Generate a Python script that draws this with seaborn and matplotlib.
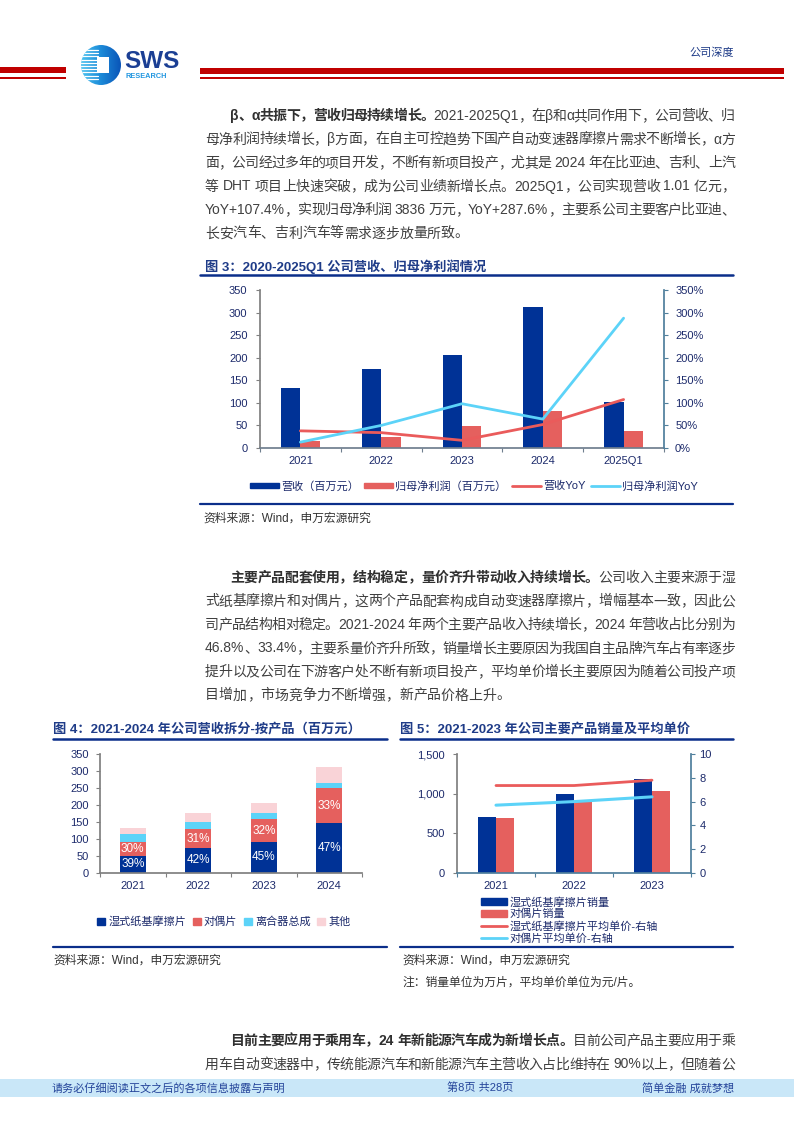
import re
import numpy as np
import pandas as pd
import seaborn as sns
import matplotlib.pyplot as plt
from matplotlib.patches import Rectangle, Circle, Patch
from matplotlib.lines import Line2D
from matplotlib.font_manager import FontProperties

FAM = ['Liberation Sans', 'Noto Sans CJK SC']
sns.set_theme(style='white')
plt.rcParams['font.family'] = FAM
plt.rcParams['axes.unicode_minus'] = False

# ---- 图3 data
years3 = ['2021', '2022', '2023', '2024', '2025Q1']
revenue = [132, 176, 206, 313, 101]
net_profit = [16, 24, 49, 81, 38]
rev_yoy = [38, 34, 17, 52, 107.4]
np_yoy = [13, 50, 98, 64, 287.6]

# ---- 图4 data (百万元)
years4 = ['2021', '2022', '2023', '2024']
wet_rev = [51, 74, 92, 146]
pair_rev = [40, 54, 66, 104]
clutch_rev = [23, 22, 18, 16]
other_rev = [18, 26, 31, 47]
wet_share = ['39%', '42%', '45%', '47%']
pair_share = ['30%', '31%', '32%', '33%']

# ---- 图5 data
years5 = ['2021', '2022', '2023']
wet_vol = [700, 1000, 1190]
pair_vol = [690, 890, 1035]
wet_price = [7.35, 7.35, 7.8]
pair_price = [5.7, 6.0, 6.4]

NAVY = '#003296'
RED = '#E5605E'
RLINE = '#EA5B5B'
CYAN = '#5CD3F8'
PINK = '#F9D3D7'
BLUE = '#1F3C88'
TICKC = '#1C2A6B'
GREY = '#808080'
STEEL = '#4F7F9C'
BODY = '#404040'

W, H = 794, 1123
fig = plt.figure(figsize=(W / 100, H / 100), dpi=100)
page = fig.add_axes([0, 0, 1, 1])
page.set_xlim(0, W)
page.set_ylim(H, 0)
page.axis('off')


def box(x0, y0, x1, y1):
    return [x0 / W, 1 - y1 / H, (x1 - x0) / W, (y1 - y0) / H]


def fx(x):
    return x / W


def fy(y):
    return 1 - y / H


renderer = fig.canvas.get_renderer()


def width_of(s, bold, size):
    prop = FontProperties(family=FAM, size=size, weight='bold' if bold else 'normal')
    w1 = renderer.get_text_width_height_descent('|' + s + '|', prop, ismath=False)[0]
    w0 = renderer.get_text_width_height_descent('||', prop, ismath=False)[0]
    return w1 - w0


def draw_line(y, x0, x1, parts, justify=True, size=10):
    tokens = []
    for txt, bold in parts:
        for m in re.finditer(r'[!-~]+| +|.', txt):
            tokens.append((m.group(), bold))
    widths = [width_of(t, b, size) for t, b in tokens]
    gap = 0
    if justify and len(tokens) > 1:
        gap = (x1 - x0 - sum(widths)) / (len(tokens) - 1)
    x = x0
    for (t, b), w in zip(tokens, widths):
        if t.strip():
            page.text(x, y, t, fontsize=size, fontweight='bold' if b else 'normal',
                      color='#303030' if b else BODY, ha='left', va='center')
        x += w + gap


def paragraph(y0, lines, step=23.5, last_justify=False):
    for i, parts in enumerate(lines):
        x0 = 230 if i == 0 else 205
        just = last_justify or i < len(lines) - 1
        draw_line(y0 + i * step, x0, 735, parts, justify=just)


# ---- header
page.add_patch(Rectangle((0, 67), 66, 6, color='#C00000', lw=0))
page.add_patch(Rectangle((0, 76.5), 66, 2, color='#C00000', lw=0))
page.add_patch(Rectangle((200, 68), 584, 5.5, color='#C00000', lw=0))
page.add_patch(Rectangle((200, 76.5), 584, 2, color='#C00000', lw=0))
logo = Circle((101, 65), 20, transform=page.transData)
grad = np.linspace(0, 1, 64)[None, :]
im = page.imshow(grad, extent=(81, 121, 85, 45), cmap=plt.matplotlib.colors.LinearSegmentedColormap.from_list(
    'lg', ['#4CC3F0', '#1C8AD8', '#0A55B8']), aspect='auto', origin='upper', zorder=2)
im.set_clip_path(logo)
for yy in np.arange(50, 82, 3.2):
    ln, = page.plot([80, 98], [yy, yy], color='white', lw=0.9, zorder=3)
    ln.set_clip_path(logo)
page.add_patch(Rectangle((97, 57), 12, 16, color='white', lw=0, zorder=3))
page.set_xlim(0, W)
page.set_ylim(H, 0)
page.text(124, 61, 'SWS', fontsize=17.5, fontweight='bold', color='#1B3F94', ha='left', va='center')
page.text(125, 76.5, 'RESEARCH', fontsize=5.3, fontweight='bold', color='#2196E0', ha='left', va='center')
page.text(734, 53, '公司深度', fontsize=8, color=BLUE, ha='right', va='center')

# ---- paragraph 1
paragraph(116, [
    [('β、α共振下，营收归母持续增长。', True), ('2021-2025Q1，在β和α共同作用下，公司营收、归', False)],
    [('母净利润持续增长，β方面，在自主可控趋势下国产自动变速器摩擦片需求不断增长，α方', False)],
    [('面，公司经过多年的项目开发，不断有新项目投产，尤其是 2024 年在比亚迪、吉利、上汽', False)],
    [('等 DHT 项目上快速突破，成为公司业绩新增长点。2025Q1，公司实现营收 1.01 亿元，', False)],
    [('YoY+107.4%，实现归母净利润 3836 万元，YoY+287.6%，主要系公司主要客户比亚迪、', False)],
    [('长安汽车、吉利汽车等需求逐步放量所致。', False)],
])

# ---- 图3
page.text(205, 267, '图 3：2020-2025Q1 公司营收、归母净利润情况', fontsize=9.5, fontweight='bold',
          color=BLUE, ha='left', va='center')
page.plot([200, 733], [275, 275], color='#0B2E8A', lw=1.8)
page.plot([200, 733], [504, 504], color='#0B2E8A', lw=1.6)
page.text(203, 519, '资料来源：Wind，申万宏源研究', fontsize=8.5, color='#333333', ha='left', va='center')


def cat_axis(ax, labels, color):
    n = len(labels)
    ax.set_xlim(-0.5, n - 0.5)
    ax.set_xticks(range(n))
    ax.set_xticklabels(labels)
    ax.set_xticks(np.arange(-0.5, n), minor=True)
    ax.tick_params(axis='x', which='major', bottom=True, length=0, pad=6, labelsize=8, labelcolor=TICKC)
    ax.tick_params(axis='x', which='minor', bottom=True, length=3, width=0.8, color=color, direction='out')
    ax.spines['bottom'].set_color(color)
    ax.set_xlabel('')


def left_axis(ax, color, pad=6):
    ax.spines['left'].set_color(color)
    ax.tick_params(axis='y', left=True, length=3, width=0.8, color=color, direction='out',
                   pad=pad, labelsize=8, labelcolor=TICKC)
    ax.set_ylabel('')


ax1 = fig.add_axes(box(260, 290, 664, 448))
df3 = pd.DataFrame({'year': years3 * 2, 'value': revenue + net_profit,
                    'series': ['营收（百万元）'] * 5 + ['归母净利润（百万元）'] * 5})
sns.barplot(data=df3, x='year', y='value', hue='series', palette=[NAVY, RED], width=0.48,
            saturation=1, legend=False, ax=ax1, linewidth=0)
ax1.set_ylim(0, 350)
ax1.set_yticks(range(0, 351, 50))
ax1b = ax1.twinx()
sns.lineplot(x=np.arange(5), y=rev_yoy, color=RLINE, lw=2, ax=ax1b)
sns.lineplot(x=np.arange(5), y=np_yoy, color=CYAN, lw=2, ax=ax1b)
ax1b.set_ylim(0, 350)
ax1b.set_yticks(range(0, 351, 50))
ax1b.yaxis.set_major_formatter(lambda v, p: f'{v:.0f}%')
cat_axis(ax1, years3, '#6F7F8F')
left_axis(ax1, GREY)
for s in ['top', 'right']:
    ax1.spines[s].set_visible(False)
for s in ['top', 'left', 'bottom']:
    ax1b.spines[s].set_visible(False)
ax1b.spines['right'].set_color(STEEL)
ax1b.tick_params(axis='y', right=True, length=3, width=0.8, color=STEEL, direction='out',
                 pad=5, labelsize=8, labelcolor=TICKC)
ax1b.set_ylabel('')
ax1.set_xlim(-0.5, 4.5)
h3 = [Patch(color=NAVY), Patch(color=RED), Line2D([], [], color=RLINE, lw=2), Line2D([], [], color=CYAN, lw=2)]
ax1.legend(h3, ['营收（百万元）', '归母净利润（百万元）', '营收YoY', '归母净利润YoY'], loc='center',
           bbox_to_anchor=(fx(474), fy(486)), bbox_transform=fig.transFigure, ncol=4, frameon=False,
           fontsize=8, labelcolor=TICKC, handlelength=2.6, handleheight=0.45, handletextpad=0.2,
           columnspacing=0.5)

# ---- paragraph 2
paragraph(578, [
    [('主要产品配套使用，结构稳定，量价齐升带动收入持续增长。', True), ('公司收入主要来源于湿', False)],
    [('式纸基摩擦片和对偶片，这两个产品配套构成自动变速器摩擦片，增幅基本一致，因此公', False)],
    [('司产品结构相对稳定。2021-2024 年两个主要产品收入持续增长，2024 年营收占比分别为', False)],
    [('46.8%、33.4%，主要系量价齐升所致，销量增长主要原因为我国自主品牌汽车占有率逐步', False)],
    [('提升以及公司在下游客户处不断有新项目投产，平均单价增长主要原因为随着公司投产项', False)],
    [('目增加，市场竞争力不断增强，新产品价格上升。', False)],
])

# ---- 图4
page.text(53, 729, '图 4：2021-2024 年公司营收拆分-按产品（百万元）', fontsize=9.5, fontweight='bold',
          color=BLUE, ha='left', va='center')
page.plot([53, 387], [738.5, 738.5], color='#0B2E8A', lw=1.8)
page.plot([53, 387], [947, 947], color='#0B2E8A', lw=1.6)
page.text(53, 961, '资料来源：Wind，申万宏源研究', fontsize=8.5, color='#333333', ha='left', va='center')

ax4 = fig.add_axes(box(100, 754, 362, 873))
df4 = pd.DataFrame({'year': years4, '湿式纸基摩擦片': wet_rev, '对偶片': pair_rev,
                    '离合器总成': clutch_rev, '其他': other_rev})
layers = ['湿式纸基摩擦片', '对偶片', '离合器总成', '其他']
cols4 = [NAVY, RED, CYAN, PINK]
cum = df4[layers].cumsum(axis=1)
for name, c in reversed(list(zip(layers, cols4))):
    sns.barplot(x=df4['year'], y=cum[name], color=c, width=0.4, saturation=1, ax=ax4, linewidth=0)
for i in range(len(years4)):
    ax4.text(i, wet_rev[i] / 2, wet_share[i], color='white', fontsize=8.5, ha='center', va='center')
    ax4.text(i, wet_rev[i] + pair_rev[i] / 2, pair_share[i], color='white', fontsize=8.5,
             ha='center', va='center')
ax4.set_ylim(0, 350)
ax4.set_yticks(range(0, 351, 50))
cat_axis(ax4, years4, GREY)
left_axis(ax4, GREY, pad=5)
for s in ['top', 'right']:
    ax4.spines[s].set_visible(False)
ax4.legend([Patch(color=c) for c in cols4], layers, loc='center', bbox_to_anchor=(fx(224), fy(922)),
           bbox_transform=fig.transFigure, ncol=4, frameon=False, fontsize=8, labelcolor=TICKC,
           handlelength=0.7, handleheight=0.7, handletextpad=0.3, columnspacing=0.6)

# ---- 图5
page.text(400, 729, '图 5：2021-2023 年公司主要产品销量及平均单价', fontsize=9.5, fontweight='bold',
          color=BLUE, ha='left', va='center')
page.plot([400, 733], [738.5, 738.5], color='#0B2E8A', lw=1.8)
page.plot([400, 733], [947, 947], color='#0B2E8A', lw=1.6)
page.text(402, 961, '资料来源：Wind，申万宏源研究', fontsize=8.5, color='#333333', ha='left', va='center')
page.text(402, 983, '注：销量单位为万片，平均单价单位为元/片。', fontsize=8.5, color='#333333',
          ha='left', va='center')

ax5 = fig.add_axes(box(457, 754, 691, 873))
df5 = pd.DataFrame({'year': years5 * 2, 'value': wet_vol + pair_vol,
                    'series': ['湿式纸基摩擦片销量'] * 3 + ['对偶片销量'] * 3})
sns.barplot(data=df5, x='year', y='value', hue='series', palette=[NAVY, RED], width=0.47,
            saturation=1, legend=False, ax=ax5, linewidth=0)
ax5.set_ylim(0, 1500)
ax5.set_yticks([0, 500, 1000, 1500])
ax5.yaxis.set_major_formatter(lambda v, p: f'{v:,.0f}')
ax5b = ax5.twinx()
sns.lineplot(x=np.arange(3), y=wet_price, color=RLINE, lw=2, ax=ax5b)
sns.lineplot(x=np.arange(3), y=pair_price, color=CYAN, lw=2.2, ax=ax5b)
ax5b.set_ylim(0, 10)
ax5b.set_yticks(range(0, 11, 2))
cat_axis(ax5, years5, STEEL)
left_axis(ax5, GREY, pad=6)
for s in ['top', 'right']:
    ax5.spines[s].set_visible(False)
for s in ['top', 'left', 'bottom']:
    ax5b.spines[s].set_visible(False)
ax5b.spines['right'].set_color(STEEL)
ax5b.tick_params(axis='y', right=True, length=3, width=0.8, color=STEEL, direction='out',
                 pad=3, labelsize=8, labelcolor=TICKC)
ax5b.set_ylabel('')
ax5.set_xlim(-0.5, 2.5)
h5 = [Patch(color=NAVY), Patch(color=RED), Line2D([], [], color=RLINE, lw=2), Line2D([], [], color=CYAN, lw=2)]
ax5.legend(h5, ['湿式纸基摩擦片销量', '对偶片销量', '湿式纸基摩擦片平均单价-右轴', '对偶片平均单价-右轴'],
           loc='upper left', bbox_to_anchor=(fx(481), fy(897)), bbox_transform=fig.transFigure,
           frameon=False, fontsize=8, labelcolor=TICKC, handlelength=2.3, handleheight=0.6,
           handletextpad=0.3, labelspacing=0.12, borderpad=0, borderaxespad=0)

# ---- paragraph 3
paragraph(1041, [
    [('目前主要应用于乘用车，24 年新能源汽车成为新增长点。', True), ('目前公司产品主要应用于乘', False)],
    [('用车自动变速器中，传统能源汽车和新能源汽车主营收入占比维持在 90%以上，但随着公', False)],
], last_justify=True)

# ---- footer
page.add_patch(Rectangle((0, 1079), W, 18, color='#C9E7F8', lw=0))
page.text(52, 1088, '请务必仔细阅读正文之后的各项信息披露与声明', fontsize=8, color='#24449A', ha='left', va='center')
page.text(480, 1088, '第8页 共28页', fontsize=8, color='#24449A', ha='center', va='center')
page.text(734, 1088, '简单金融 成就梦想', fontsize=8, color='#24449A', ha='right', va='center')

fig.savefig('out.png', dpi=100)
